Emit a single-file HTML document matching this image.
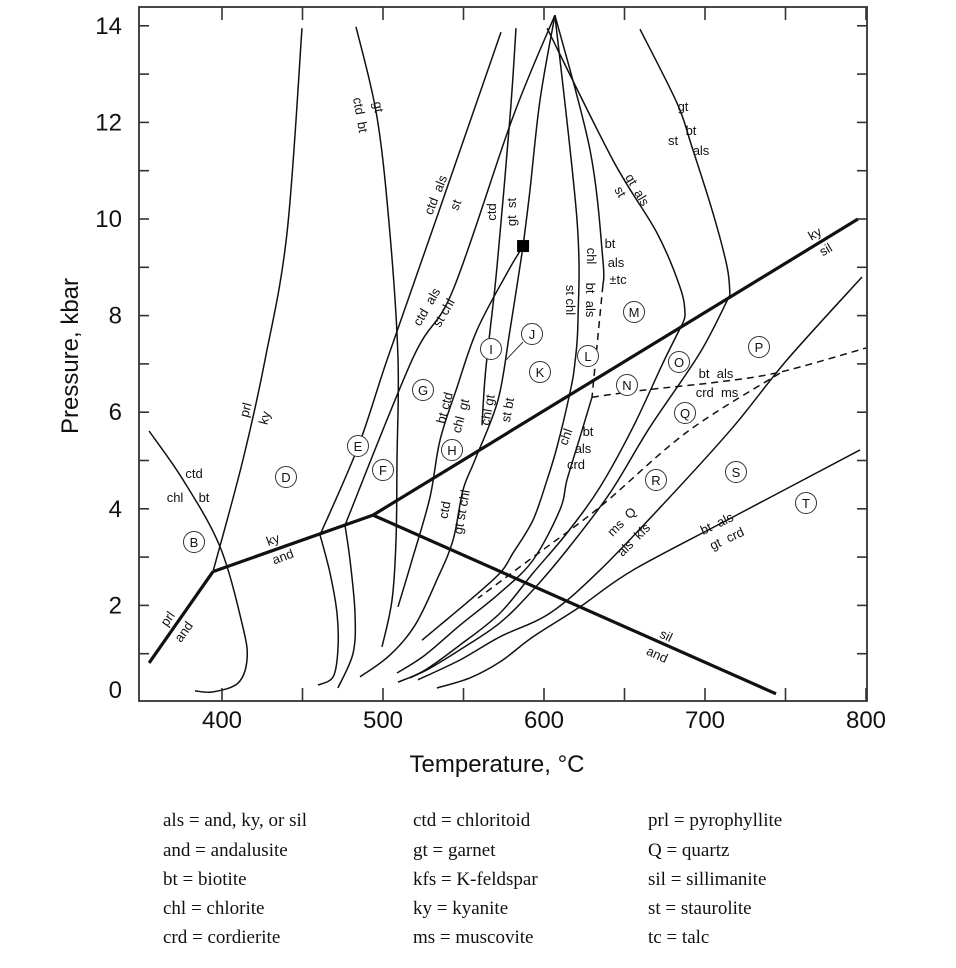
<!DOCTYPE html>
<html><head><meta charset="utf-8"><style>
html,body{margin:0;padding:0;background:#fff;}
svg{display:block;}
.lg{font-family:"Liberation Serif",serif;font-size:19px;fill:#111;}
.an{font-family:"Liberation Sans",sans-serif;font-size:13px;fill:#111;}
.tk{font-family:"Liberation Sans",sans-serif;font-size:24px;fill:#111;}
</style></head><body>
<svg id="chart" width="956" height="968" viewBox="0 0 956 968" xmlns="http://www.w3.org/2000/svg">
<g id="marks"></g>
<g id="axes"></g>
<g id="annot"></g>
<text class="tk" x="497" y="772" text-anchor="middle">Temperature, °C</text>
<text class="tk" transform="translate(78,356) rotate(-90)" text-anchor="middle">Pressure, kbar</text>
<g>
<text class="lg" x="163" y="826">als = and, ky, or sil</text>
<text class="lg" x="163" y="856">and = andalusite</text>
<text class="lg" x="163" y="885">bt = biotite</text>
<text class="lg" x="163" y="914">chl = chlorite</text>
<text class="lg" x="163" y="943">crd = cordierite</text>
<text class="lg" x="413" y="826">ctd = chloritoid</text>
<text class="lg" x="413" y="856">gt = garnet</text>
<text class="lg" x="413" y="885">kfs = K-feldspar</text>
<text class="lg" x="413" y="914">ky = kyanite</text>
<text class="lg" x="413" y="943">ms = muscovite</text>
<text class="lg" x="648" y="826">prl = pyrophyllite</text>
<text class="lg" x="648" y="856">Q = quartz</text>
<text class="lg" x="648" y="885">sil = sillimanite</text>
<text class="lg" x="648" y="914">st = staurolite</text>
<text class="lg" x="648" y="943">tc = talc</text>
</g>
</svg>
<script>
// ---- data: [T (°C), P (kbar)] ----
const xTicks = [400,450,500,550,600,650,700,750,800];
const xTickLabels = ["400","500","600","700","800"];
const yTicks = [1,2,3,4,5,6,7,8,9,10,11,12,13,14];
const yTickLabels = ["0","2","4","6","8","10","12","14"];
const invariantPoint = [493.8,3.87];
const squarePoint = [587.0,9.44];
const prlAnd = [[354.7,0.81],[394.4,2.70]];
const kyAnd = [[394.4,2.70],[493.8,3.87]];
const kySil = [[493.8,3.87],[795.0,10.0]];
const silAnd = [[493.8,3.87],[744.1,0.17]];
const prlKy = [[394.4,2.70],[413.0,5.01],[426.7,7.08],[440.4,9.71],[449.7,13.95]];
const chlCtdBt = [[354.7,5.61],[375.8,4.60],[398.8,3.21],[413.0,1.55],[415.5,0.87],[409.9,0.39],[394.4,0.21],[383.2,0.23]];
const gtCtdBt = [[483.2,13.98],[496.3,12.11],[504.3,9.71],[509.3,7.12],[508.7,5.01],[508.1,3.35],[505.6,2.11],[499.4,1.14]];
const ctdAlsSt = [[573.3,13.87],[533.5,10.04],[502.5,7.08],[484.5,5.28],[460.9,3.46]];
const ctdAlsStLow = [[460.9,3.46],[467.1,2.67],[471.4,1.84],[472.0,1.08],[469.0,0.52],[459.6,0.35]];
const ctdAlsStChl = [[606.8,14.22],[580.7,12.11],[543.5,8.53],[518.6,7.12],[476.4,3.66]];
const ctdAlsStChlLow = [[476.4,3.66],[479.5,2.94],[482.6,1.84],[481.4,1.01],[472.0,0.29]];
const ctdGtSt = [[582.6,13.95],[578.9,12.11],[570.8,9.01],[566.5,7.70],[563.4,6.73],[561.5,5.73]];
const gtStApex = [[606.8,14.22],[597.5,12.46],[591.3,10.60],[587.0,9.44]];
const btCtdChlGt = [[587.0,9.44],[577.0,8.88],[558.4,7.70],[546.0,6.52],[535.4,5.42],[529.2,4.24],[518.6,3.00],[509.3,1.97]];
const chlGtStBt = [[587.0,9.44],[578.9,7.70],[571.4,6.25],[557.1,5.01],[549.7,4.39],[543.5,3.35],[533.5,2.53],[519.9,1.59],[504.3,0.97],[485.7,0.52]];
const stChlBtAls = [[606.8,14.22],[620.5,9.98],[621.1,7.91],[619.2,7.02],[616.1,6.40],[608.1,5.28],[601.9,4.60],[593.2,3.77],[580.7,3.08],[572.7,2.67],[554.0,2.11],[535.4,1.59],[524.2,1.28]];
const chlBtAlsTc = [[606.8,14.22],[628.6,11.43],[636.6,9.15],[636.6,8.63]];
const chlBtAlsTcMeta = [[636.6,8.63],[629.8,6.31]];
const btAlsCrdMs = [[629.8,6.31],[662.7,6.46],[709.3,6.63],[746.6,6.83],[800.0,7.33]];
const chlBtAlsCrd = [[629.8,6.31],[622.4,5.49],[614.3,4.60],[609.9,3.98],[593.2,2.94],[572.7,2.26],[547.8,1.59],[526.1,0.97],[508.7,0.60]];
const gtAlsSt = [[601.9,13.95],[642.8,11.22],[670.2,9.71],[684.5,8.59],[687.6,8.05],[686.3,7.85]];
const gtAlsStLow = [[686.3,7.85],[673.9,7.02],[655.3,5.69],[634.8,4.45],[614.3,3.50],[593.2,2.67],[572.7,1.84],[547.8,1.18],[526.1,0.66],[509.3,0.41]];
const gtStBtAls = [[659.6,13.93],[682.6,12.40],[691.9,11.49],[705.0,10.12],[713.7,9.01],[715.5,8.43]];
const gtStBtAlsLow = [[715.5,8.43],[696.9,7.23],[665.8,5.69],[641.0,4.33],[614.3,3.15],[593.2,2.32],[572.7,1.64],[547.8,1.08],[529.2,0.70],[516.8,0.50]];
const msQAlsKfs = [[797.5,8.80],[750.9,7.08],[717.4,5.69],[676.4,4.18],[634.8,2.73],[603.7,1.84],[572.7,1.35],[547.8,0.87],[521.7,0.46]];
const btAlsGtCrd = [[796.3,5.22],[717.4,3.83],[655.3,2.73],[622.4,1.97],[593.2,1.35],[572.7,0.83],[554.0,0.50],[533.5,0.29]];
const msQDashed = [[746.6,6.81],[688.8,5.59],[634.8,4.04],[593.2,3.00],[559.0,2.15]];

// ---- axis functions ----
const X0=222, XK=1.61, Y0=702, YK=48.3;
function sx(T){return X0+(T-400)*XK;}
function sy(P){return Y0-P*YK;}
const NS="http://www.w3.org/2000/svg";
const marks=document.getElementById('marks');
const axes=document.getElementById('axes');
const annot=document.getElementById('annot');
function mk(tag,parent){const e=document.createElementNS(NS,tag);parent.appendChild(e);return e;}
function smoothPath(pts){
  const p=pts.map(q=>[sx(q[0]),sy(q[1])]);
  if(p.length<3) return p.map((q,i)=>(i?'L':'M')+q[0].toFixed(1)+' '+q[1].toFixed(1)).join(' ');
  let d='M'+p[0][0].toFixed(1)+' '+p[0][1].toFixed(1);
  for(let i=0;i<p.length-1;i++){
    const p0=p[i-1]||p[i], p1=p[i], p2=p[i+1], p3=p[i+2]||p2;
    const c1=[p1[0]+(p2[0]-p0[0])/6, p1[1]+(p2[1]-p0[1])/6];
    const c2=[p2[0]-(p3[0]-p1[0])/6, p2[1]-(p3[1]-p1[1])/6];
    d+=' C'+c1[0].toFixed(1)+' '+c1[1].toFixed(1)+' '+c2[0].toFixed(1)+' '+c2[1].toFixed(1)+' '+p2[0].toFixed(1)+' '+p2[1].toFixed(1);
  }
  return d;
}
function curve(pts,name,w,dash){
  const p=mk('path',marks);
  p.setAttribute('d',smoothPath(pts));
  p.setAttribute('fill','none');p.setAttribute('stroke','#111');
  p.setAttribute('stroke-width',w);p.setAttribute('stroke-linejoin','round');
  if(dash)p.setAttribute('stroke-dasharray',dash);
  
  
}
curve(prlAnd,'prl-and-reaction',3.2);
curve(kyAnd,'ky-and-reaction',3.2);
curve(kySil,'ky-sil-reaction',3.2);
curve(silAnd,'sil-and-reaction',3.2);
curve(prlKy,'prl-ky-reaction',1.5);
curve(chlCtdBt,'chl-ctd-bt-reaction',1.5);
curve(gtCtdBt,'gt-ctd-bt-reaction',1.5);
curve(ctdAlsSt,'ctd-als-st-reaction',1.5);
curve(ctdAlsStLow,'ctd-als-st-and-field',1.5);
curve(ctdAlsStChl,'ctd-als-st-chl-reaction',1.5);
curve(ctdAlsStChlLow,'ctd-als-st-chl-and-field',1.5);
curve(ctdGtSt,'ctd-gt-st-reaction',1.5);
curve(gtStApex,'gt-st-reaction',1.5);
curve(btCtdChlGt,'bt-ctd-chl-gt-reaction',1.5);
curve(chlGtStBt,'chl-gt-st-bt-reaction',1.5);
curve(stChlBtAls,'st-chl-bt-als-reaction',1.5);
curve(chlBtAlsTc,'chl-bt-als-tc-reaction',1.5);
curve(chlBtAlsTcMeta,'chl-bt-als-tc-metastable',1.5,'7 5');
curve(btAlsCrdMs,'bt-als-crd-ms-reaction',1.5,'7 5');
curve(chlBtAlsCrd,'chl-bt-als-crd-reaction',1.5);
curve(gtAlsSt,'gt-als-st-reaction',1.5);
curve(gtAlsStLow,'gt-als-st-sil-field',1.5);
curve(gtStBtAls,'gt-st-bt-als-reaction',1.5);
curve(gtStBtAlsLow,'gt-st-bt-als-sil-field',1.5);
curve(msQAlsKfs,'ms-q-als-kfs-reaction',1.5);
curve(btAlsGtCrd,'bt-als-gt-crd-reaction',1.5);
curve(msQDashed,'ms-q-dashed-reaction',1.5,'7 5');
{
  const r=mk('rect',marks);
  r.setAttribute('x',sx(squarePoint[0])-6);r.setAttribute('y',sy(squarePoint[1])-6);
  r.setAttribute('width',12);r.setAttribute('height',12);r.setAttribute('fill','#000');
  
  
}
// frame & ticks
{
  const f=mk('rect',axes);
  f.setAttribute('x',139);f.setAttribute('y',7);f.setAttribute('width',728);f.setAttribute('height',694);
  f.setAttribute('fill','none');f.setAttribute('stroke','#333');f.setAttribute('stroke-width',1.8);
  
  
}
function ln(x1,y1,x2,y2,name){
  const l=mk('line',axes);
  l.setAttribute('x1',x1);l.setAttribute('y1',y1);l.setAttribute('x2',x2);l.setAttribute('y2',y2);
  l.setAttribute('stroke','#333');l.setAttribute('stroke-width',1.6);
  
  
}
xTicks.forEach(t=>{const x=sx(t);ln(x,701,x,688,'x-tick-bottom');ln(x,7,x,20,'x-tick-top');});
yTicks.forEach(p=>{const y=sy(p);ln(139,y,149,y,'y-tick-left');ln(867,y,857,y,'y-tick-right');});
xTickLabels.forEach(s=>{
  const t=mk('text',axes);t.setAttribute('class','tk');
  t.setAttribute('x',sx(+s));t.setAttribute('y',728);t.setAttribute('text-anchor','middle');
  t.textContent=s;
  
  
});
yTickLabels.forEach(s=>{
  const t=mk('text',axes);t.setAttribute('class','tk');
  const v=+s; const y=(v===0?sy(0)-12:sy(v))+8;
  t.setAttribute('x',122);t.setAttribute('y',y);t.setAttribute('text-anchor','end');
  t.textContent=s;
  
  
});
// annotations (px positions)
const circles=[["B",194,542],["D",286,477],["E",358,446],["F",383,470],["G",423,390],["H",452,450],["I",491,349],["J",532,334],["K",540,372],["L",588,356],["M",634,312],["N",627,385],["O",679,362],["P",759,347],["Q",685,413],["R",656,480],["S",736,472],["T",806,503]];
circles.forEach(c=>{
  const g=mk('g',annot);
  
  
  const ci=mk('circle',g);ci.setAttribute('cx',c[1]);ci.setAttribute('cy',c[2]);ci.setAttribute('r',10.5);
  ci.setAttribute('fill','#fff');ci.setAttribute('stroke','#333');ci.setAttribute('stroke-width',1);
  const t=mk('text',g);t.setAttribute('class','an');t.setAttribute('x',c[1]);t.setAttribute('y',c[2]+5);
  t.setAttribute('text-anchor','middle');t.setAttribute('font-size','14');t.textContent=c[0];
});
{const l=mk('line',annot);l.setAttribute('x1',523);l.setAttribute('y1',342);l.setAttribute('x2',505);l.setAttribute('y2',361);l.setAttribute('stroke','#333');l.setAttribute('stroke-width',1);
 
 }
const labels=[["ctd",194,474,0],["chl",175,498,0],["bt",204,498,0],["prl",246,410,-75],["ky",265,418,-75],
["gt",378,107,80],["ctd  bt",360,115,80],["ctd  als",436,195,-68],["st",456,205,-68],
["ctd  als",427,307,-60],["st chl",444,313,-60],["ctd",492,212,-90],["gt  st",512,212,-90],
["gt",683,107,0],["bt",691,131,0],["st",673,141,0],["als",701,151,0],
["gt  als",637,190,60],["st",620,192,60],["bt",610,244,0],["als",616,263,0],["±tc",618,280,0],["chl",591,256,90],
["bt  als",590,300,90],["st chl",570,300,90],["ky",815,234,-30],["sil",826,250,-30],
["bt  als",716,374,0],["crd  ms",717,393,0],["bt ctd",445,408,-75],["chl  gt",461,416,-75],
["chl gt",488,410,-80],["st bt",508,410,-80],["chl",566,437,-70],["bt",588,432,0],["als",583,449,0],["crd",576,465,0],
["ctd",445,510,-80],["gt st chl",462,512,-80],["ms  Q",622,522,-45],["als  kfs",634,540,-45],
["bt  als",717,524,-25],["gt  crd",727,539,-25],["sil",666,636,25],["and",657,655,25],
["ky",273,540,-20],["and",283,557,-20],["prl",168,619,-55],["and",184,632,-55]];
labels.forEach(a=>{
  const t=mk('text',annot);t.setAttribute('class','an');t.setAttribute('text-anchor','middle');
  t.setAttribute('transform','translate('+a[1]+','+a[2]+') rotate('+a[3]+')');
  t.setAttribute('dy','4');t.setAttribute('xml:space','preserve');t.style.whiteSpace='pre';
  t.textContent=a[0];
  
  
});
</script>
</body></html>
